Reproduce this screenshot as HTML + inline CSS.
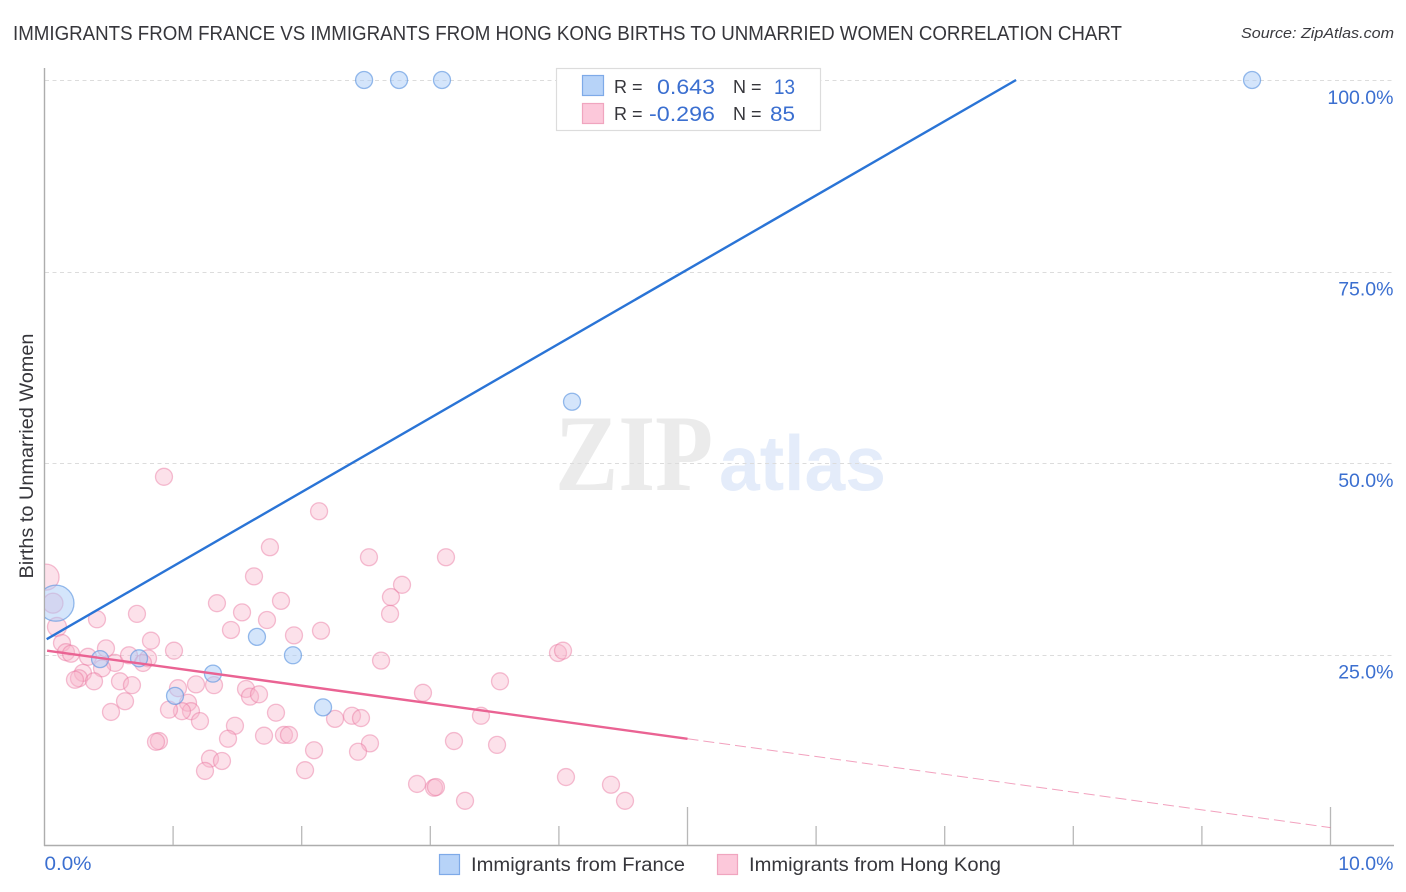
<!DOCTYPE html>
<html lang="en">
<head>
<meta charset="utf-8">
<title>Immigrants from France vs Immigrants from Hong Kong Births to Unmarried Women Correlation Chart</title>
<style>
html,body{margin:0;padding:0;background:#fff;width:1406px;height:892px;overflow:hidden}
svg{display:block;font-family:"Liberation Sans",sans-serif}
</style>
</head>
<body>
<svg id="chart" width="1406" height="892" viewBox="0 0 1406 892" xmlns="http://www.w3.org/2000/svg">
  <defs>
    <clipPath id="plot-clip"><rect x="45" y="60" width="1349" height="785"/></clipPath>
  </defs>
  <rect x="0" y="0" width="1406" height="892" fill="#fff"/>
  <text x="13" y="40" font-size="20" fill="#36363b" textLength="1109" lengthAdjust="spacingAndGlyphs">IMMIGRANTS FROM FRANCE VS IMMIGRANTS FROM HONG KONG BIRTHS TO UNMARRIED WOMEN CORRELATION CHART</text>
  <text x="1241" y="38" font-size="15" font-style="italic" fill="#3a3a3f" textLength="153" lengthAdjust="spacingAndGlyphs">Source: ZipAtlas.com</text>
  <text x="555" y="490" font-family="'Liberation Serif',serif" font-weight="bold" font-size="109" fill="#ebebeb" textLength="158" lengthAdjust="spacingAndGlyphs">ZIP</text>
  <text x="719" y="490" font-weight="bold" font-size="78" fill="#e4ecfa" textLength="167" lengthAdjust="spacingAndGlyphs">atlas</text>
  <g id="grid"></g>
  <g id="axes"></g>
  <g id="points" clip-path="url(#plot-clip)"></g>
  <g id="trends"></g>
  <text transform="translate(33,456) rotate(-90)" text-anchor="middle" font-size="19" fill="#36363b" textLength="245" lengthAdjust="spacingAndGlyphs">Births to Unmarried Women</text>

  <g>
    <rect x="556.5" y="68.5" width="264" height="62" fill="#fff" stroke="#dcdcdc" stroke-width="1.2"/>
    <rect x="582.5" y="75.5" width="21" height="20" fill="#b7d3f8" stroke="#7eaae8" stroke-width="1.2"/>
    <rect x="582.5" y="103.5" width="21" height="20" fill="#fcc8da" stroke="#f0a5bf" stroke-width="1.2"/>
    <text x="614" y="93" font-size="18" fill="#36363b">R =</text>
    <text x="657" y="94" font-size="21.5" fill="#3b6fd0" textLength="58" lengthAdjust="spacingAndGlyphs">0.643</text>
    <text x="733" y="93" font-size="18" fill="#36363b">N =</text>
    <text x="774" y="94" font-size="21.5" fill="#3b6fd0" textLength="21" lengthAdjust="spacingAndGlyphs">13</text>
    <text x="614" y="120" font-size="18" fill="#36363b">R =</text>
    <text x="649" y="121" font-size="21.5" fill="#3b6fd0" textLength="66" lengthAdjust="spacingAndGlyphs">-0.296</text>
    <text x="733" y="120" font-size="18" fill="#36363b">N =</text>
    <text x="770" y="121" font-size="21.5" fill="#3b6fd0" textLength="25" lengthAdjust="spacingAndGlyphs">85</text>
  </g>

  <g>
    <rect x="439.5" y="854.5" width="20" height="20" fill="#b7d3f8" stroke="#7eaae8" stroke-width="1.2"/>
    <text x="471" y="871" font-size="19" fill="#36363b" textLength="214" lengthAdjust="spacingAndGlyphs">Immigrants from France</text>
    <rect x="717.5" y="854.5" width="20" height="20" fill="#fcc8da" stroke="#f0a5bf" stroke-width="1.2"/>
    <text x="749" y="871" font-size="19" fill="#36363b" textLength="252" lengthAdjust="spacingAndGlyphs">Immigrants from Hong Kong</text>
  </g>
</svg>
<script>
const yTickValues = [25, 50, 75, 100];
const yTickLabels = ['25.0%', '50.0%', '75.0%', '100.0%'];
const xTickValues = [1, 2, 3, 4, 5, 6, 7, 8, 9, 10];
const xMajorTicks = [5, 10];
const xEndLabels = ['0.0%', '10.0%'];

const franceX = [2.485, 2.757, 3.091, 9.390, 4.102, 1.652, 1.932, 1.310, 2.166, 1.015, 0.735, 0.432, 0.089];
const franceY = [100, 100, 100, 100, 58.0, 27.3, 24.9, 22.5, 18.1, 19.6, 24.5, 24.4, 31.7];
const franceWeight = [1, 1, 1, 1, 1, 1, 1, 1, 1, 1, 1, 1, 4.5];

const hongKongX = [0.408, 0.097, 0.136, 0.167, 0.206, 0.338, 0.478, 0.548, 0.447, 0.299, 0.268, 0.237, 0.385, 0.587, 0.680, 0.626, 0.517, 0.719, 0.828, 0.657, 0.805, 0.766, 1.007, 1.038, 1.178, 1.318, 1.116, 1.139, 1.069, 0.968, 1.209, 1.481, 1.427, 1.707, 1.862, 1.901, 0.890, 0.867, 1.287, 1.380, 1.248, 2.096, 2.026, 1.800, 2.259, 2.391, 1.567, 1.598, 1.668, 1.341, 1.629, 1.753, 1.839, 1.536, 1.730, 1.450, 1.940, 2.150, 2.523, 3.122, 2.780, 2.694, 2.687, 2.617, 3.993, 4.032, 3.542, 2.943, 3.394, 2.461, 2.531, 2.438, 3.184, 3.519, 2.897, 3.029, 3.044, 3.270, 4.055, 4.405, 4.514, 0.929, 2.135, 0.012, 0.066];
const hongKongY = [29.6, 28.6, 26.5, 25.3, 25.1, 24.7, 25.8, 23.9, 23.2, 22.6, 21.9, 21.7, 21.5, 21.5, 21.0, 18.9, 17.5, 30.3, 26.8, 24.9, 24.5, 23.9, 25.5, 20.6, 21.1, 21.0, 18.7, 17.6, 17.6, 17.8, 16.3, 15.7, 14.0, 14.4, 14.5, 14.5, 13.7, 13.6, 11.4, 11.1, 9.8, 12.5, 9.9, 17.4, 16.6, 17.0, 20.5, 19.5, 19.8, 31.7, 35.2, 39.0, 32.0, 30.5, 29.5, 28.2, 27.5, 28.1, 37.7, 37.7, 34.1, 32.5, 30.3, 24.2, 25.2, 25.5, 21.5, 20.0, 17.0, 16.7, 13.4, 12.3, 13.7, 13.2, 8.1, 7.6, 7.7, 5.9, 9.0, 8.0, 5.9, 48.2, 43.7, 35.1, 31.7];
const hongKongWeight = [1, 1.25, 1, 1, 1, 1, 1, 1, 1, 1, 1, 1, 1, 1, 1, 1, 1, 1, 1, 1, 1, 1, 1, 1, 1, 1, 1, 1, 1, 1, 1, 1, 1, 1, 1, 1, 1, 1, 1, 1, 1, 1, 1, 1, 1, 1, 1, 1, 1, 1, 1, 1, 1, 1, 1, 1, 1, 1, 1, 1, 1, 1, 1, 1, 1, 1, 1, 1, 1, 1, 1, 1, 1, 1, 1, 1, 1, 1, 1, 1, 1, 1, 1, 2.35, 1.38];

const franceTrendX = [0.017, 7.555];
const franceTrendY = [27.0, 100];
const hongKongTrendX = [0.02, 5.0];
const hongKongTrendY = [25.5, 14.0];
const hongKongDashX = [5.0, 10.0];
const hongKongDashY = [14.0, 2.4];

const NS = 'http://www.w3.org/2000/svg';
function xScale(v) { return 44.5 + v * 128.6; }
function yScale(v) { return 846 - v * 7.66; }
function radius(w) { return 8.5 * Math.sqrt(w); }
function make(tag, attrs, parent) {
  const el = document.createElementNS(NS, tag);
  for (const k in attrs) el.setAttribute(k, attrs[k]);
  parent.appendChild(el);
  return el;
}

const grid = document.getElementById('grid');
const axes = document.getElementById('axes');
const points = document.getElementById('points');
const trends = document.getElementById('trends');

yTickValues.forEach(function (v, i) {
  const y = Math.round(yScale(v)) + 0.5;
  const line = make('line', {x1: 45, x2: 1394, y1: y, y2: y, stroke: '#dcdcdc', 'stroke-width': 1, 'stroke-dasharray': '4 3.5'}, grid);
  
  
  const label = make('text', {x: 1393.5, y: yScale(v) + 24, 'text-anchor': 'end', 'font-size': 19.5, fill: '#3b6fd0'}, axes);
  label.textContent = yTickLabels[i];
  
  
});

const leftAxis = make('line', {x1: 44.5, x2: 44.5, y1: 68, y2: 846, stroke: '#adadad', 'stroke-width': 1.4}, axes);


const bottomAxis = make('line', {x1: 44, x2: 1394, y1: 845.5, y2: 845.5, stroke: '#adadad', 'stroke-width': 1.4}, axes);



xTickValues.forEach(function (v) {
  const x = xScale(v);
  const top = xMajorTicks.indexOf(v) >= 0 ? 807 : 826;
  const tick = make('line', {x1: x, x2: x, y1: top, y2: 845, stroke: '#b8b8b8', 'stroke-width': 1.3}, axes);
  
  
});

const xLabelStart = make('text', {x: xScale(0), y: 870, 'font-size': 19.5, fill: '#3b6fd0', textLength: 47, lengthAdjust: 'spacingAndGlyphs'}, axes);
xLabelStart.textContent = xEndLabels[0];


const xLabelEnd = make('text', {x: 1393.5, y: 870, 'text-anchor': 'end', 'font-size': 19.5, fill: '#3b6fd0'}, axes);
xLabelEnd.textContent = xEndLabels[1];



hongKongX.forEach(function (v, i) {
  const c = make('circle', {cx: xScale(v), cy: yScale(hongKongY[i]), r: radius(hongKongWeight[i]), fill: '#f8b4ca', 'fill-opacity': 0.4, stroke: '#e9749d', 'stroke-opacity': 0.45, 'stroke-width': 1.3}, points);
  
  
});
franceX.forEach(function (v, i) {
  const c = make('circle', {cx: xScale(v), cy: yScale(franceY[i]), r: radius(franceWeight[i]), fill: '#a9cbf8', 'fill-opacity': 0.5, stroke: '#5f96e0', 'stroke-opacity': 0.65, 'stroke-width': 1.3}, points);
  
  
});

const franceTrend = make('line', {x1: xScale(franceTrendX[0]), y1: yScale(franceTrendY[0]), x2: xScale(franceTrendX[1]), y2: yScale(franceTrendY[1]), stroke: '#2a74d6', 'stroke-width': 2.4}, trends);


const hongKongTrend = make('line', {x1: xScale(hongKongTrendX[0]), y1: yScale(hongKongTrendY[0]), x2: xScale(hongKongTrendX[1]), y2: yScale(hongKongTrendY[1]), stroke: '#ea6393', 'stroke-width': 2.4}, trends);


const hongKongDash = make('line', {x1: xScale(hongKongDashX[0]), y1: yScale(hongKongDashY[0]), x2: xScale(hongKongDashX[1]), y2: yScale(hongKongDashY[1]), stroke: '#ea6393', 'stroke-opacity': 0.6, 'stroke-width': 1, 'stroke-dasharray': '11 5'}, trends);


</script>
</body>
</html>
